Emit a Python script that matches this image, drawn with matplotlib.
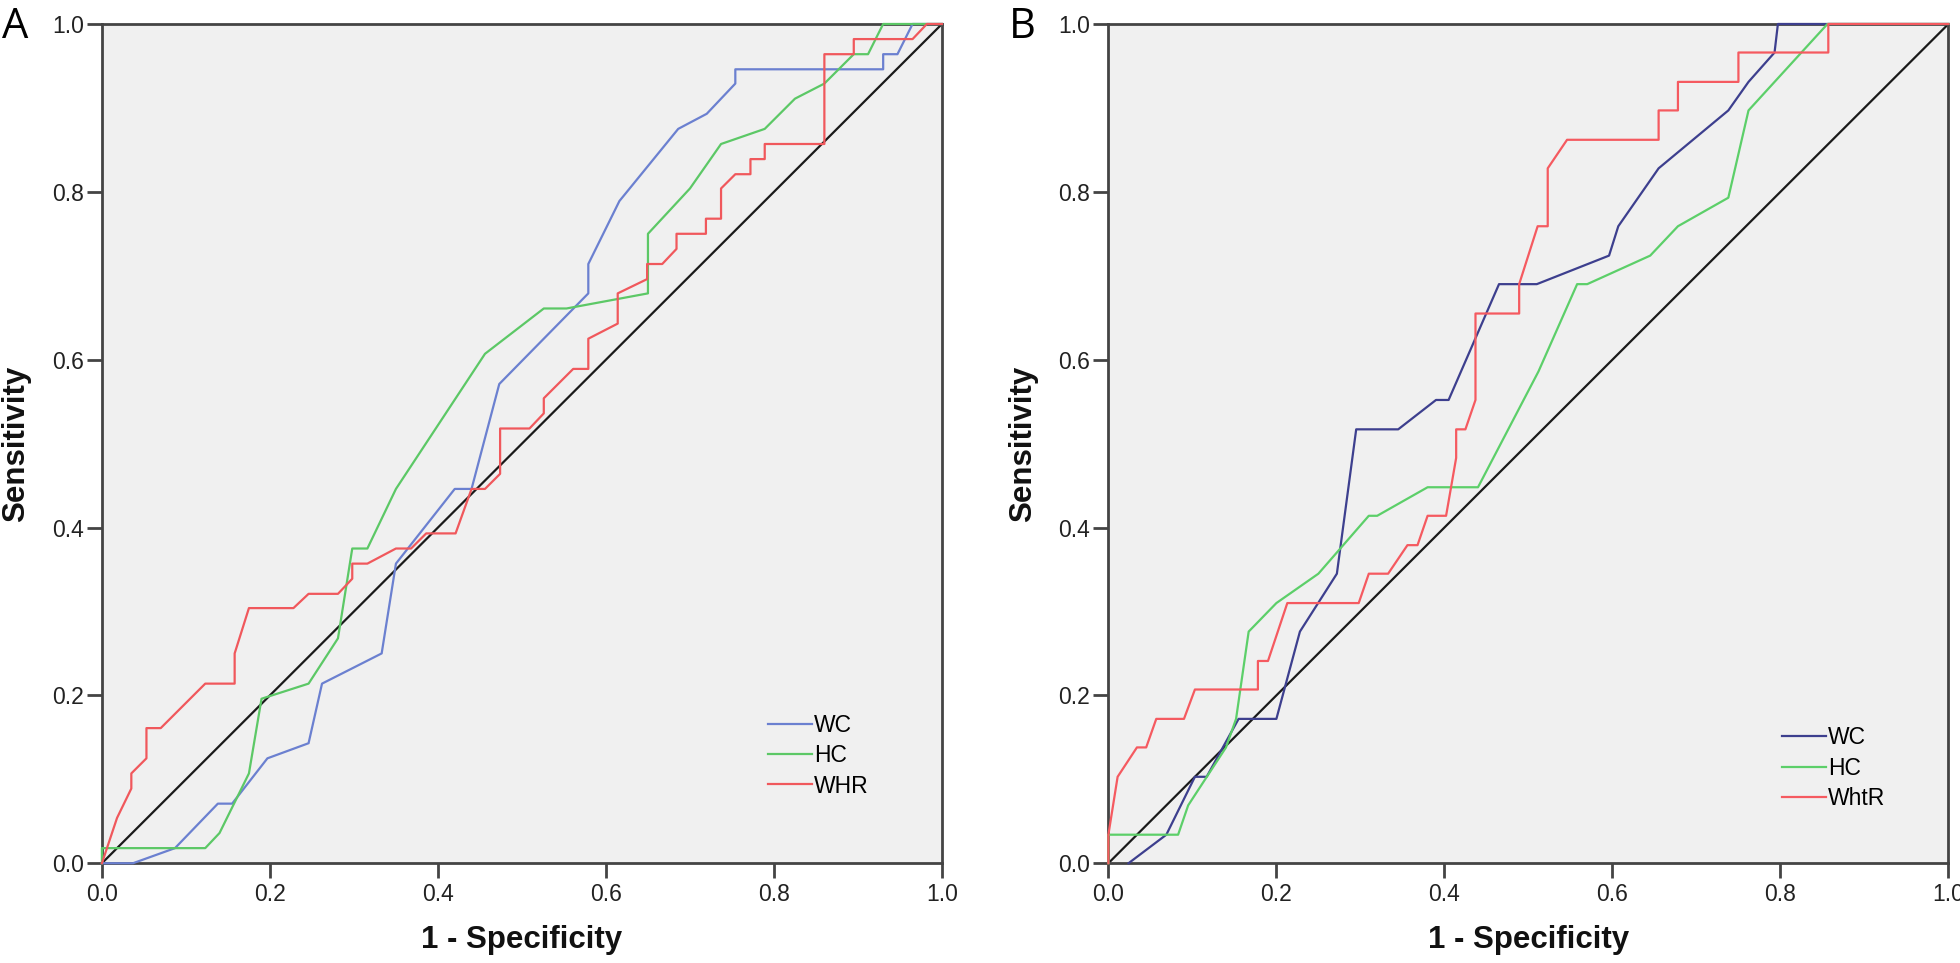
import matplotlib.pyplot as plt

# panel A: WC / HC / WHR
a_wc_x = [0.0, 0.037, 0.087, 0.138, 0.155, 0.197, 0.246, 0.262, 0.333, 0.35, 0.42, 0.44, 0.473, 0.579, 0.579,
          0.616, 0.686, 0.72, 0.754, 0.754, 0.93, 0.93, 0.947, 0.965, 1.0]
a_wc_y = [0.0, 0.0, 0.018, 0.071, 0.071, 0.125, 0.143, 0.214, 0.25, 0.357, 0.446, 0.446, 0.571, 0.679, 0.714,
          0.789, 0.875, 0.893, 0.929, 0.946, 0.946, 0.964, 0.964, 1.0, 1.0]

a_hc_x = [0.0, 0.0, 0.123, 0.14, 0.175, 0.19, 0.246, 0.281, 0.298, 0.316, 0.35, 0.456, 0.526, 0.553, 0.65, 0.65,
          0.70, 0.737, 0.789, 0.825, 0.86, 0.895, 0.912, 0.93, 1.0]
a_hc_y = [0.0, 0.018, 0.018, 0.036, 0.107, 0.196, 0.214, 0.268, 0.375, 0.375, 0.446, 0.607, 0.661, 0.661, 0.679,
          0.75, 0.804, 0.857, 0.875, 0.911, 0.929, 0.964, 0.964, 1.0, 1.0]

a_whr_x = [0.0, 0.018, 0.035, 0.035, 0.053, 0.053, 0.07, 0.123, 0.158, 0.158, 0.175, 0.228, 0.246, 0.281, 0.298,
           0.298, 0.316, 0.35, 0.368, 0.386, 0.421, 0.44, 0.456, 0.474, 0.474, 0.509, 0.526, 0.526, 0.561, 0.579,
           0.579, 0.614, 0.614, 0.649, 0.649, 0.667, 0.684, 0.684, 0.719, 0.719, 0.737, 0.737, 0.754, 0.772,
           0.772, 0.789, 0.789, 0.86, 0.86, 0.895, 0.895, 0.965, 0.982, 1.0]
a_whr_y = [0.0, 0.054, 0.089, 0.107, 0.125, 0.161, 0.161, 0.214, 0.214, 0.25, 0.304, 0.304, 0.321, 0.321, 0.339,
           0.357, 0.357, 0.375, 0.375, 0.393, 0.393, 0.446, 0.446, 0.464, 0.518, 0.518, 0.536, 0.554, 0.589, 0.589,
           0.625, 0.643, 0.679, 0.696, 0.714, 0.714, 0.732, 0.75, 0.75, 0.768, 0.768, 0.804, 0.821, 0.821,
           0.839, 0.839, 0.857, 0.857, 0.964, 0.964, 0.982, 0.982, 1.0, 1.0]

# panel B: WC / HC / WhtR
b_wc_x = [0.024, 0.069, 0.103, 0.117, 0.155, 0.2, 0.228, 0.272, 0.295, 0.345, 0.39, 0.405, 0.465, 0.51,
          0.596, 0.607, 0.655, 0.738, 0.762, 0.793, 0.797, 1.0]
b_wc_y = [0.0, 0.034, 0.103, 0.103, 0.172, 0.172, 0.276, 0.345, 0.517, 0.517, 0.552, 0.552, 0.69, 0.69,
          0.724, 0.759, 0.828, 0.897, 0.931, 0.966, 1.0, 1.0]

b_hc_x = [0.0, 0.0, 0.083, 0.095, 0.14, 0.152, 0.167, 0.2, 0.25, 0.31, 0.32, 0.38, 0.44, 0.512, 0.558, 0.57,
          0.645, 0.678, 0.738, 0.762, 0.856, 1.0]
b_hc_y = [0.0, 0.034, 0.034, 0.069, 0.138, 0.172, 0.276, 0.31, 0.345, 0.414, 0.414, 0.448, 0.448, 0.586, 0.69,
          0.69, 0.724, 0.759, 0.793, 0.897, 1.0, 1.0]

b_whtr_x = [0.0, 0.0, 0.011, 0.034, 0.045, 0.057, 0.09, 0.103, 0.178, 0.178, 0.19, 0.213, 0.298, 0.31, 0.333,
            0.356, 0.368, 0.38, 0.402, 0.414, 0.414, 0.425, 0.437, 0.437, 0.489, 0.489, 0.511, 0.523, 0.523, 0.546,
            0.655, 0.655, 0.678, 0.678, 0.75, 0.75, 0.857, 0.857, 1.0]
b_whtr_y = [0.0, 0.034, 0.103, 0.138, 0.138, 0.172, 0.172, 0.207, 0.207, 0.241, 0.241, 0.31, 0.31, 0.345,
            0.345, 0.379, 0.379, 0.414, 0.414, 0.483, 0.517, 0.517, 0.552, 0.655, 0.655, 0.69, 0.759, 0.759,
            0.828, 0.862, 0.862, 0.897, 0.897, 0.931, 0.931, 0.966, 0.966, 1.0, 1.0]

ticks = [0.0, 0.2, 0.4, 0.6, 0.8, 1.0]

panels = [
    ("A", [("WC", a_wc_x, a_wc_y, "#6b80d0"), ("HC", a_hc_x, a_hc_y, "#5cc866"),
           ("WHR", a_whr_x, a_whr_y, "#f0585c")], 0.052, (0.793, 0.178)),
    ("B", [("WC", b_wc_x, b_wc_y, "#3d3f8e"), ("HC", b_hc_x, b_hc_y, "#5ccf69"),
           ("WhtR", b_whtr_x, b_whtr_y, "#f55a60")], 0.5655, (0.802, 0.163)),
]

plt.rcParams["font.family"] = ["Liberation Sans", "DejaVu Sans"]

fig = plt.figure(figsize=(19.6, 9.63), dpi=100)

for name, series, left, leg_pos in panels:
    ax = fig.add_axes([left, 0.1036, 0.4286, 0.8715])
    ax.set_facecolor("#f0f0f0")
    ax.plot([0, 1], [0, 1], color="#1a1a1a", lw=1.6, zorder=2)
    for label, xs, ys, col in series:
        ax.plot(xs, ys, color=col, lw=1.6, label=label, zorder=3, clip_on=False)

    ax.set_xlim(0, 1)
    ax.set_ylim(0, 1)
    ax.set_xticks(ticks)
    ax.set_yticks(ticks)
    ax.set_xticklabels([f"{t:.1f}" for t in ticks])
    ax.set_yticklabels([f"{t:.1f}" for t in ticks])
    for sp in ax.spines.values():
        sp.set_color("#444444")
        sp.set_linewidth(2.0)
    ax.tick_params(direction="out", length=10.5, width=2.0, color="#444444",
                   labelsize=16.5, labelcolor="#222222", pad=2.5)
    ax.tick_params(axis="x", pad=4)

    ax.set_xlabel("1 - Specificity", fontsize=22.5, fontweight="bold", color="#111111")
    ax.set_ylabel("Sensitivity", fontsize=22.5, fontweight="bold", color="#111111")
    ax.xaxis.set_label_coords(0.5, -0.092)
    ax.xaxis.label.set_va("center")
    ax.yaxis.set_label_coords(-0.102, 0.5)
    ax.yaxis.label.set_va("center")

    ax.legend(loc="upper left", bbox_to_anchor=leg_pos, frameon=False, fontsize=16.5,
              handlelength=1.9, handletextpad=0.12, labelspacing=0.32, borderpad=0, borderaxespad=0)
    fig.text(left - 0.051, 0.994, name, fontsize=30, va="top", ha="left",
             family=["Open Sans", "DejaVu Sans"])

fig.savefig("out.png", dpi=100)
